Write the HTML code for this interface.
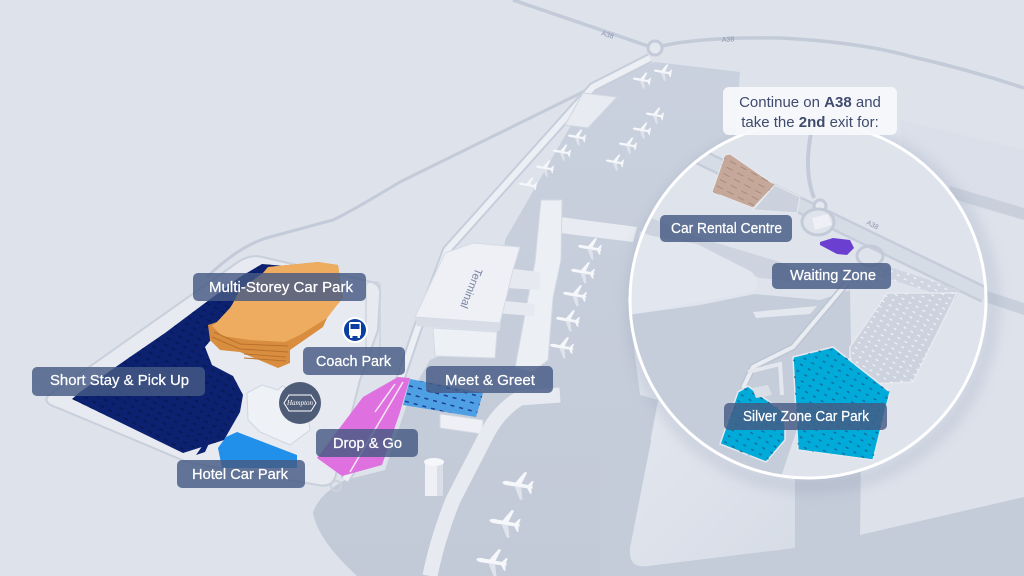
<!DOCTYPE html>
<html><head><meta charset="utf-8"><style>
html,body{margin:0;padding:0;width:1024px;height:576px;overflow:hidden;background:#dde2eb}
svg{display:block}
.lb{font-family:"Liberation Sans",sans-serif;font-size:15px;fill:#fff;stroke:#fff;stroke-width:.25}
</style></head><body>
<svg width="1024" height="576" viewBox="0 0 1024 576" xmlns="http://www.w3.org/2000/svg">
<defs>
<pattern id="pn" width="9" height="7" patternUnits="userSpaceOnUse" patternTransform="rotate(28)"><rect x="0" y="2" width="4" height="1.6" fill="#061650" opacity=".8"/></pattern>
<pattern id="ps" width="7" height="9" patternUnits="userSpaceOnUse" patternTransform="rotate(-60)"><rect x="0" y="2" width="1.4" height="3" fill="#1a5c8c" opacity=".8"/></pattern>
<pattern id="pw" width="6" height="8" patternUnits="userSpaceOnUse" patternTransform="rotate(-60)"><rect x="0" y="2" width="1.3" height="3" fill="#f3f5f9" opacity=".9"/></pattern>
<pattern id="pb" width="12" height="7" patternUnits="userSpaceOnUse" patternTransform="rotate(28)"><rect x="0" y="2" width="7" height="1" fill="#8a6e63"/></pattern>
<pattern id="pm" width="9" height="8" patternUnits="userSpaceOnUse" patternTransform="rotate(15)"><rect x="0" y="2" width="4" height="1.5" fill="#1d3f8f"/></pattern>
<linearGradient id="pg" x1="0" y1="0" x2="1" y2="1"><stop offset="0" stop-color="#e3e7ef"/><stop offset="1" stop-color="#d6dce6"/></linearGradient>
<linearGradient id="ag" x1="0" y1="0" x2="0" y2="1"><stop offset="0" stop-color="#cad1de"/><stop offset="1" stop-color="#c2c9d7"/></linearGradient>
<filter id="bl" x="-20%" y="-20%" width="140%" height="140%"><feGaussianBlur stdDeviation="7"/></filter>
<clipPath id="cc"><circle cx="808" cy="300" r="178"/></clipPath>
<symbol id="pl" viewBox="-16 -16 32 32">
<g transform="rotate(10)">
<path d="M-15,0 Q-14,-1.8 -11,-2 L10,-1.6 L14,-1 L14,1 L10,1.6 L-11,2 Q-14,1.8 -15,0 Z" fill="#f6f7fa"/>
<path d="M-3,-1.5 L4,-13 L6.5,-13 L3,-1.5 Z M-3,1.5 L4,13 L6.5,13 L3,1.5 Z" fill="#f6f7fa"/>
<path d="M9,-1.5 L12.5,-6 L14,-6 L13,-1 Z M9,1.5 L12.5,6 L14,6 L13,1 Z" fill="#f6f7fa"/>
<path d="M-3,1.5 L4,13 L6.5,13 L3,1.5 Z" fill="#dfe3eb"/>
</g>
</symbol>
<polygon id="navy" points="262,264 285,266 270,283 255,300 215,335 205,347 212,365 233,376 243,395 240,412 224,440 183,453 72,399 80,392 130,357 165,333 205,303 240,277"/>
</defs>

<rect width="1024" height="576" fill="#dde2eb"/>

<!-- top right shading -->
<polygon points="900,120 1024,150 1024,220 905,190" fill="#d3d9e4" opacity=".35"/>

<!-- roads -->
<path d="M513,0 L648,46" stroke="#c3cbd9" stroke-width="3.5" fill="none"/>
<path d="M662,46 Q700,37 780,38 Q860,42 913,57 Q970,70 1024,88" stroke="#c3cbd9" stroke-width="3.5" fill="none"/>
<circle cx="655" cy="48" r="7" stroke="#c3cbd9" stroke-width="3" fill="#e4e8ef"/>
<path d="M207,277 Q240,245 270,237 L333,220 Q350,212 400,182 L593,87" stroke="#c3cbd9" stroke-width="3" fill="none"/>
<text x="601" y="35" font-family="Liberation Sans,sans-serif" font-size="7" fill="#8a95ae" transform="rotate(18 601 35)">A38</text>
<text x="722" y="42" font-family="Liberation Sans,sans-serif" font-size="7" fill="#8a95ae" transform="rotate(-3 722 42)">A38</text>

<!-- apron -->
<path d="M593,87 L655,62 L740,72 L730,205 L640,232 L628,300 L640,395 L658,400 L630,548 L645,576 L357,576 Q318,540 313,513 Q318,495 345,480 L385,470 L410,395 L430,360 L500,330 L505,240 Z" fill="url(#ag)"/>
<!-- bottom right gray -->
<rect x="600" y="440" width="424" height="136" fill="#c4cbd9"/>
<path d="M660,395 L795,400 L795,548 L648,566 Q628,569 630,548 Z" fill="url(#pg)"/>
<path d="M862,380 L1024,380 L1024,497 L860,535 Z" fill="#dce1ea"/>
<polygon points="950,186 1024,208 1024,220 947,197" fill="#c9d0dc"/>
<polygon points="984,290 1024,303 1024,315 982,301" fill="#c9d0dc"/>

<!-- main landside road -->
<path d="M650,58 L593,87 L447,250 L417,330 L400,380 L370,440 L345,480" stroke="#c7cedb" stroke-width="10" fill="none" stroke-linejoin="round"/>
<path d="M650,58 L593,87 L447,250 L417,330 L400,380 L370,440 L345,480" stroke="#eceff4" stroke-width="6" fill="none" stroke-linejoin="round"/>

<!-- white building top -->
<polygon points="583,93 617,97 588,128 565,125" fill="#e8ebf1" stroke="#d0d6e0"/>

<!-- site -->
<path d="M48,396 L238,262 Q250,254 262,257 L372,282 Q381,285 380,295 L378,330 L360,380 L335,478 Q330,488 318,485 L187,462 L58,408 Q42,403 48,396 Z" fill="#e7eaf0" stroke="#c9d0dc" stroke-width="2"/>
<rect x="366" y="282" width="14" height="80" rx="4" fill="none" stroke="#cdd3de" stroke-width="1.5"/>

<!-- navy short stay -->
<use href="#navy" fill="#0c2170"/>
<use href="#navy" fill="url(#pn)"/>
<polygon points="196,455 218,424 205,452" fill="#0c2170"/>

<!-- hotel building -->
<polygon points="247,393 262,385 278,390 282,386 305,395 310,430 290,445 260,432 248,420" fill="#eef1f6" stroke="#d0d6e1"/>
<!-- hotel car park -->
<polygon points="237,432 297,455 297,468 222,468 218,448 226,437" fill="#2190ea"/>

<!-- orange MSCP -->
<polygon points="268,267 318,262 338,265 343,298 337,305 327,318 323,327 290,350 290,363 278,368 240,352 220,350 210,340 208,325 217,322 230,308 232,305 240,290 263,273" fill="#d98d3f"/>
<polygon points="268,267 318,262 338,265 343,298 337,305 327,318 300,335 285,342 250,340 222,336 212,326 217,322 230,308 232,305 240,290 263,273" fill="#edac5f"/>
<path d="M214,332 L240,344 L288,346 M212,337 L240,349 L288,352 M244,354 L286,357 M244,358 L286,361" stroke="#b8722e" stroke-width="1" fill="none"/>

<!-- pink drop & go -->
<polygon points="398,377 410,378 400,412 382,465 342,476 317,458 363,397" fill="#df70df"/>
<path d="M403,382 L350,472 M395,384 L375,412" stroke="#f5e6f7" stroke-width="1.5" fill="none"/>

<!-- meet & greet -->
<polygon points="410,379 483,393 476,417 403,405" fill="#4f9fe5"/>
<polygon points="410,379 483,393 476,417 403,405" fill="url(#pm)"/>
<polygon points="440,414 483,420 482,434 440,428" fill="#eef0f5" stroke="#d3d9e3"/>

<!-- terminal -->
<polygon points="560,217 637,227 633,242 560,233" fill="#e8ebf1"/>
<polygon points="541,200 562,200 561,260 553,298 548,360 533,372 515,368 528,298 535,262" fill="#eceff4" stroke="#d3d9e3"/>
<polygon points="505,268 540,272 540,290 505,288" fill="#e6e9f0"/>
<polygon points="495,300 535,304 534,316 495,313" fill="#e6e9f0"/>
<polygon points="433,328 497,332 495,358 435,356" fill="#edf0f5" stroke="#d5dbe5"/>
<polygon points="415,317 500,323 500,331 417,326" fill="#d7dce6"/>
<polygon points="415,317 445,253 473,243 520,247 513,270 500,323" fill="#eef0f5" stroke="#d5dbe5"/>
<text x="468" y="287" font-family="Liberation Sans,sans-serif" font-size="11" fill="#7784a2" text-anchor="middle" textLength="42" lengthAdjust="spacingAndGlyphs" transform="rotate(112 468 287)">Terminal</text>

<!-- taxiway -->
<path d="M560,395 L520,398 Q500,410 488,432 L453,500 Q437,540 430,576" stroke="#e7eaf0" stroke-width="15" fill="none"/>

<!-- control tower -->
<rect x="425" y="462" width="18" height="34" fill="#eef0f5"/>
<rect x="437" y="462" width="6" height="34" fill="#d9dee7"/>
<ellipse cx="434" cy="462" rx="10" ry="4" fill="#f6f7fa"/>
<circle cx="336" cy="486" r="5" stroke="#cdd3de" stroke-width="2" fill="none"/>

<!-- planes -->
<use href="#pl" x="653" y="62" width="20" height="20"/>
<use href="#pl" x="632" y="70" width="20" height="20"/>
<use href="#pl" x="645" y="105" width="20" height="20"/>
<use href="#pl" x="632" y="120" width="20" height="20"/>
<use href="#pl" x="618" y="135" width="20" height="20"/>
<use href="#pl" x="605" y="152" width="20" height="20"/>
<use href="#pl" x="567" y="127" width="20" height="20"/>
<use href="#pl" x="552" y="142" width="20" height="20"/>
<use href="#pl" x="535" y="158" width="20" height="20"/>
<use href="#pl" x="518" y="175" width="20" height="20"/>
<use href="#pl" x="577" y="235" width="26" height="26"/>
<use href="#pl" x="570" y="259" width="26" height="26"/>
<use href="#pl" x="562" y="282" width="26" height="26"/>
<use href="#pl" x="555" y="307" width="26" height="26"/>
<use href="#pl" x="549" y="334" width="26" height="26"/>
<use href="#pl" x="501" y="468" width="34" height="34"/>
<use href="#pl" x="488" y="506" width="34" height="34"/>
<use href="#pl" x="475" y="545" width="34" height="34"/>

<!-- circle shadow -->
<circle cx="812" cy="306" r="180" fill="none" stroke="#8e9ab3" stroke-width="10" opacity=".35" filter="url(#bl)"/>

<!-- circle content -->
<g clip-path="url(#cc)">
<rect x="620" y="110" width="380" height="380" fill="#dfe3ec"/>
<polygon points="620,205 700,238 780,262 800,270 800,282 760,278 700,252 620,225" fill="#cdd3df"/>
<path d="M620,230 L697,244 L752,272 Q762,285 752,292 L633,314 L620,314 Z" fill="#e2e6ee"/>
<polygon points="620,316 700,305 755,294 820,300 850,290 852,395 800,420 780,480 620,480" fill="#c6cdda"/>
<polygon points="753,312 817,306 810,314 756,318" fill="#e3e7ee"/>
<path d="M690,152 L985,295" stroke="#c6cdda" stroke-width="17" fill="none"/>
<path d="M690,152 L985,295" stroke="#d6dce6" stroke-width="12" fill="none"/>
<text x="866" y="224" font-family="Liberation Sans,sans-serif" font-size="7" fill="#8a95ae" transform="rotate(27 866 224)">A38</text>
<polygon points="875,262 960,290 955,300 870,273" fill="#d0d6e1"/>
<polygon points="875,262 960,290 955,300 870,273" fill="url(#pw)"/>
<polygon points="887,293 957,293 913,382 850,385 850,347" fill="#ccd2de" stroke="#e6e9ef" stroke-width="1.5"/>
<polygon points="887,293 957,293 913,382 850,385 850,347" fill="url(#pw)"/>
<path d="M812,128 Q803,170 814,198" stroke="#c3cbd8" stroke-width="4" fill="none"/>
<circle cx="820" cy="206" r="6" stroke="#c3cbd8" stroke-width="3" fill="#e4e8ef"/>
<ellipse cx="818" cy="222" rx="16" ry="13" stroke="#c3cbd8" stroke-width="3" fill="#dfe3ec"/>
<polygon points="812,218 828,214 832,225 815,230" fill="#eef0f5"/>
<ellipse cx="870" cy="256" rx="13" ry="10" stroke="#c3cbd8" stroke-width="3" fill="none"/>
<path d="M847,283 L793,347 L753,367 L743,388" stroke="#bcc5d3" stroke-width="7" fill="none"/>
<path d="M847,283 L793,347 L753,367 L743,388" stroke="#e9ecf1" stroke-width="4" fill="none"/>
<path d="M748,372 L780,364 L782,395" stroke="#e4e8ee" stroke-width="4" fill="none"/>
<polygon points="775,185 800,197 797,213 753,210" fill="#ccd2dd" stroke="#e6e9ef"/>
<polygon points="725,155 730,154 775,185 753,208 712,192" fill="#c5a899" stroke="#e6e9ef"/>
<polygon points="725,155 730,154 775,185 753,208 712,192" fill="url(#pb)" opacity=".5"/>
<polygon points="820,242 833,238 850,240 854,248 847,255 837,254 820,245" fill="#6b3fd0"/>
<polygon points="738,392 748,386 760,395 785,413 785,440 766,462 720,444" fill="#00aad9" stroke="#e6e9ef" stroke-width="1.5"/>
<polygon points="738,392 748,386 760,395 785,413 785,440 766,462 720,444" fill="url(#ps)"/>
<polygon points="793,357 833,347 890,392 873,460 798,450" fill="#00aad9" stroke="#e6e9ef" stroke-width="1.5"/>
<polygon points="793,357 833,347 890,392 873,460 798,450" fill="url(#ps)"/>
<polygon points="752,388 768,385 772,395 756,398" fill="#d9dee7"/>
</g>
<circle cx="808" cy="300" r="178" fill="none" stroke="#ffffff" stroke-width="3"/>

<!-- instruction box -->
<rect x="723" y="87" width="174" height="48" rx="6" fill="#f7f8fb" opacity=".92"/>
<text x="810" y="107" font-family="Liberation Sans,sans-serif" font-size="15" fill="#3f4b6e" text-anchor="middle">Continue on <tspan font-weight="bold">A38</tspan> and</text>
<text x="810" y="127" font-family="Liberation Sans,sans-serif" font-size="15" fill="#3f4b6e" text-anchor="middle">take the <tspan font-weight="bold">2nd</tspan> exit for:</text>

<!-- icons -->
<circle cx="355" cy="330" r="13" fill="#ffffff"/>
<circle cx="355" cy="330" r="11" fill="#0b3ea3"/>
<rect x="349" y="322" width="12" height="14" rx="2" fill="#ffffff"/>
<rect x="350.5" y="324" width="9" height="5" fill="#0b3ea3"/>
<rect x="350" y="336" width="2.5" height="2" fill="#ffffff"/>
<rect x="357.5" y="336" width="2.5" height="2" fill="#ffffff"/>
<circle cx="300" cy="403" r="21" fill="#4f5c78"/>
<polygon points="284,403 289,395 311,395 316,403 311,411 289,411" fill="none" stroke="#ffffff" stroke-width="1"/>
<text x="300" y="405" font-family="Liberation Serif,serif" font-style="italic" font-size="7" fill="#ffffff" text-anchor="middle">Hampton</text>

<!-- labels -->
<g fill="#465a84" fill-opacity=".82">
<rect x="193" y="273" width="173" height="28" rx="5"/>
<rect x="32" y="367" width="173" height="29" rx="5"/>
<rect x="303" y="347" width="102" height="28" rx="5"/>
<rect x="177" y="460" width="128" height="28" rx="5"/>
<rect x="316" y="429" width="102" height="28" rx="5"/>
<rect x="426" y="366" width="127" height="27" rx="5"/>
<rect x="660" y="215" width="132" height="27" rx="5"/>
<rect x="772" y="263" width="119" height="26" rx="5"/>
<rect x="724" y="403" width="163" height="27" rx="5"/>
</g>
<text class="lb" x="209" y="292" textLength="144" lengthAdjust="spacingAndGlyphs">Multi-Storey Car Park</text>
<text class="lb" x="50" y="385" textLength="139" lengthAdjust="spacingAndGlyphs">Short Stay &amp; Pick Up</text>
<text class="lb" x="316" y="366" textLength="75" lengthAdjust="spacingAndGlyphs">Coach Park</text>
<text class="lb" x="192" y="479" textLength="96" lengthAdjust="spacingAndGlyphs">Hotel Car Park</text>
<text class="lb" x="333" y="448" textLength="69" lengthAdjust="spacingAndGlyphs">Drop &amp; Go</text>
<text class="lb" x="445" y="385" textLength="90" lengthAdjust="spacingAndGlyphs">Meet &amp; Greet</text>
<text class="lb" x="671" y="233" textLength="111" lengthAdjust="spacingAndGlyphs">Car Rental Centre</text>
<text class="lb" x="790" y="280" textLength="86" lengthAdjust="spacingAndGlyphs">Waiting Zone</text>
<text class="lb" x="743" y="421" textLength="126" lengthAdjust="spacingAndGlyphs">Silver Zone Car Park</text>
</svg>
</body></html>
